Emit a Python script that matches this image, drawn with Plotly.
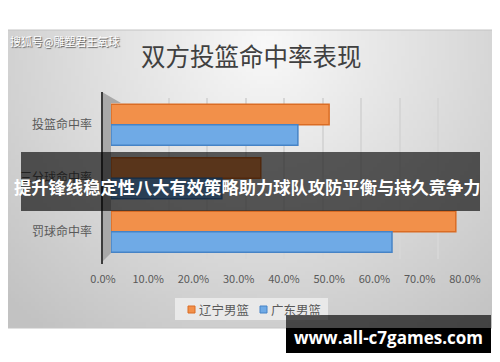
import base64
import struct
import zlib

import plotly.graph_objects as go

# ---------------- data ----------------
categories = ["投篮命中率", "三分球命中率", "罚球命中率"]
series_names = ["辽宁男篮", "广东男篮"]
liaoning = [0.482, 0.331, 0.762]
guangdong = [0.413, 0.245, 0.621]
tick_vals = [0, 0.1, 0.2, 0.3, 0.4, 0.5, 0.6, 0.7, 0.8]
tick_text = ["0.0%", "10.0%", "20.0%", "30.0%", "40.0%", "50.0%", "60.0%", "70.0%", "80.0%"]
title_text = "双方投篮命中率表现"
banner_text = "提升锋线稳定性八大有效策略助力球队攻防平衡与持久竞争力"
site_text = "www.all-c7games.com"
mark_text = "搜狐号@雕塑君王氧球"

# page body has an 8px margin: the figure is drawn at (8, 8) in the window
OFF = 8
W, H = 500 - OFF, 362 - OFF
FONT = "Noto Sans CJK SC"


def X(px):
    """window pixel x -> paper fraction"""
    return (px - OFF) / W


def Y(py):
    """window pixel y (from top) -> paper fraction"""
    return 1 - (py - OFF) / H


# ---------------- gradient background image ----------------
def png_gray(w, h, pix):
    raw = b"".join(b"\x00" + bytes(pix[r * w:(r + 1) * w]) for r in range(h))

    def chunk(t, d):
        c = struct.pack(">I", len(d)) + t + d
        return c + struct.pack(">I", zlib.crc32(t + d) & 0xFFFFFFFF)

    return (b"\x89PNG\r\n\x1a\n"
            + chunk(b"IHDR", struct.pack(">IIBBBBB", w, h, 8, 0, 0, 0, 0))
            + chunk(b"IDAT", zlib.compress(raw, 9))
            + chunk(b"IEND", b""))


img_x0, img_y0, img_w, img_h = 1, 30, 497, 298
gw, gh = 125, 75
pix = []
for j in range(gh):
    for i in range(gw):
        px = img_x0 + (i + 0.5) * img_w / gw
        py = img_y0 + (j + 0.5) * img_h / gh
        d = ((px - 265) ** 2 + (py - 45) ** 2) ** 0.5
        v = 249 - 0.15 * d
        v = max(194, min(250, v))
        pix.append(int(v))
bg_uri = "data:image/png;base64," + base64.b64encode(png_gray(gw, gh, pix)).decode()

# ---------------- figure ----------------
orange, orange_line = "#F2904A", "#DA6C24"
blue, blue_line = "#6FAAE6", "#4683C6"

fig = go.Figure()
fig.add_trace(go.Bar(y=categories, x=liaoning, orientation="h", name=series_names[0],
                     marker=dict(color=orange, line=dict(color=orange_line, width=1.5))))
fig.add_trace(go.Bar(y=categories, x=guangdong, orientation="h", name=series_names[1],
                     marker=dict(color=blue, line=dict(color=blue_line, width=1.5))))
# back-wall gridlines (perspective axis)
fig.add_trace(go.Scatter(x=[None], y=[None], xaxis="x3", yaxis="y", showlegend=False,
                         hoverinfo="skip"))

x_left, x_right = 111, 492
px_per_unit = 452.5
y_top, y_bot = 98, 258.5
x_max = (x_right - x_left) / px_per_unit

# back wall: 0 at 130px, 385 px per unit
bw0, bws = 130, 385.0
bw_min = (x_left - bw0) / bws
bw_max = (x_right - bw0) / bws

fig.update_layout(
    width=W, height=H, autosize=False,
    margin=dict(l=0, r=0, t=0, b=0, pad=0, autoexpand=False),
    paper_bgcolor="white", plot_bgcolor="rgba(0,0,0,0)",
    barmode="group", bargap=0.23, bargroupgap=0,
    font=dict(family=FONT, color="#595959", size=12),
    showlegend=False,
    xaxis=dict(domain=[X(x_left), X(x_right)], range=[0, x_max], anchor="y",
               tickvals=tick_vals, ticktext=tick_text, showgrid=False, zeroline=False,
               showline=False, ticks="", tickfont=dict(size=11, color="#595959"),
               ticklabelshift=-8, ticklabelstandoff=12, fixedrange=True, automargin=False),
    xaxis3=dict(overlaying="x", range=[bw_min, bw_max], anchor="y",
                tickvals=[0.1, 0.2, 0.3, 0.4, 0.5, 0.6, 0.7, 0.8], showticklabels=False,
                showgrid=True, gridcolor="#d6d6d6", gridwidth=1.5, zeroline=False,
                showline=False, ticks="", automargin=False),
    yaxis=dict(domain=[Y(y_bot), Y(y_top)], anchor="free", position=X(102),
               categoryorder="array", categoryarray=categories, autorange="reversed",
               showgrid=False, zeroline=False, showline=False, ticks="",
               tickfont=dict(size=12, color="#595959"), ticklabelstandoff=10,
               fixedrange=True, automargin=False),
    images=[dict(source=bg_uri, xref="paper", yref="paper", x=X(img_x0), y=Y(img_y0),
                 sizex=img_w / W, sizey=img_h / H, xanchor="left", yanchor="top",
                 sizing="stretch", layer="below")],
)

shapes = []
# chart image border
shapes.append(dict(type="rect", xref="paper", yref="paper", x0=X(img_x0), x1=X(img_x0 + img_w),
                   y0=Y(img_y0), y1=Y(img_y0 + img_h), line=dict(color="#c4c4c4", width=1),
                   fillcolor="rgba(0,0,0,0)", layer="below"))
# 3D side wall
shapes.append(dict(type="path", xref="paper", yref="paper",
                   path=f"M {X(102)} {Y(92)} L {X(121)} {Y(103)} L {X(111)} {Y(103)} "
                        f"L {X(111)} {Y(253)} L {X(102)} {Y(262)} Z",
                   fillcolor="#a9a9a9", line=dict(width=0), layer="below"))
shapes.append(dict(type="line", xref="paper", yref="paper", x0=X(102), x1=X(102),
                   y0=Y(92), y1=Y(264), line=dict(color="#3c3c3c", width=2), layer="below"))
# legend box and keys
shapes.append(dict(type="rect", xref="paper", yref="paper", x0=X(175), x1=X(328),
                   y0=Y(320), y1=Y(298), fillcolor="#e9e9e9", line=dict(width=0),
                   layer="below"))
legend_keys = [(series_names[0], orange, orange_line, 188), (series_names[1], blue, blue_line, 260)]
for nm, c, lc, kx in legend_keys:
    shapes.append(dict(type="rect", xref="paper", yref="paper", x0=X(kx), x1=X(kx + 7),
                       y0=Y(313), y1=Y(306), fillcolor=c, line=dict(color=lc, width=1),
                       layer="above"))
# overlay banner
shapes.append(dict(type="rect", xref="paper", yref="paper", x0=X(21), x1=X(480),
                   y0=Y(211), y1=Y(152), fillcolor="rgba(0,0,0,0.63)", line=dict(width=0),
                   layer="above"))
# site watermark box
shapes.append(dict(type="rect", xref="paper", yref="paper", x0=X(286), x1=X(491),
                   y0=Y(328), y1=Y(315), fillcolor="rgba(0,0,0,0.66)", line=dict(width=0),
                   layer="above"))
shapes.append(dict(type="rect", xref="paper", yref="paper", x0=X(286), x1=X(491),
                   y0=Y(353), y1=Y(328), fillcolor="#000000", line=dict(width=0),
                   layer="above"))
fig.update_layout(shapes=shapes)

annotations = [
    dict(text=title_text, x=X(251), y=Y(56), xref="paper", yref="paper", showarrow=False,
         font=dict(family=FONT, size=24.5, color="#404040"), xanchor="center", yanchor="middle"),
    dict(text="<b>" + banner_text + "</b>", x=X(247), y=Y(186), xref="paper", yref="paper",
         showarrow=False, font=dict(family=FONT, size=17.3, color="white"),
         xanchor="center", yanchor="middle"),
    dict(text="<b>" + site_text + "</b>", x=X(388), y=Y(337), xref="paper", yref="paper",
         showarrow=False, font=dict(family="Open Sans", size=17, color="white"),
         xanchor="center", yanchor="middle"),
    dict(text=mark_text, x=X(8), y=Y(41), xref="paper", yref="paper", showarrow=False,
         font=dict(family=FONT, size=11, color="white", shadow="1px 1px 1px #555555"),
         xanchor="left", yanchor="middle"),
]
for nm, c, lc, kx in legend_keys:
    annotations.append(dict(text=nm, x=X(kx + 9), y=Y(309.5), xref="paper", yref="paper",
                            showarrow=False, font=dict(family=FONT, size=12.5, color="#595959"),
                            xanchor="left", yanchor="middle"))
fig.update_layout(annotations=annotations)

fig.write_html("out.html")
